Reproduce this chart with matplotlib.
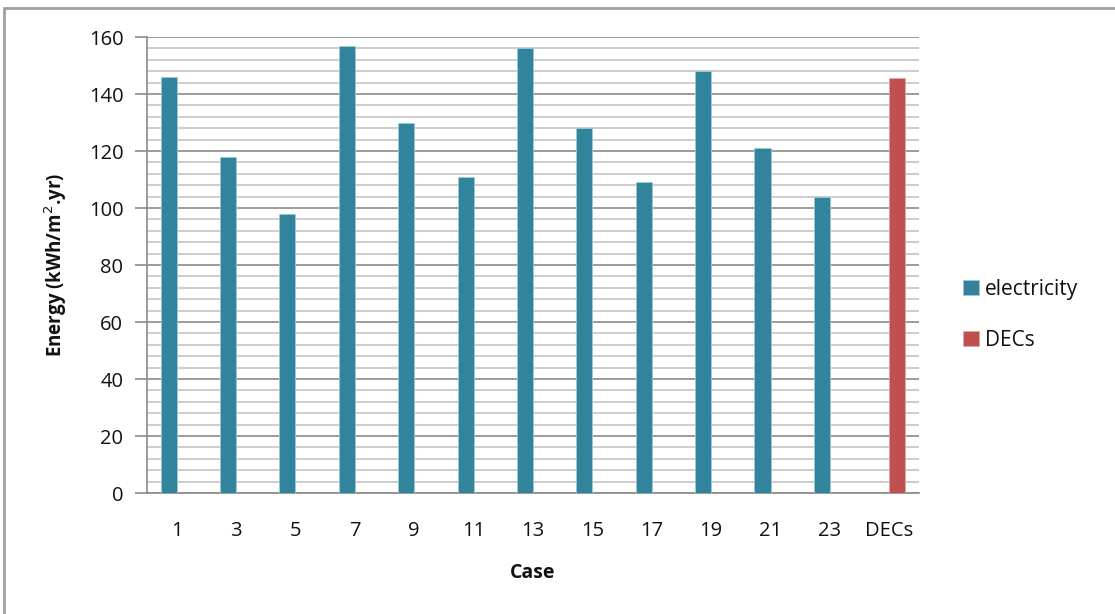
import matplotlib
matplotlib.use("Agg")
import matplotlib.pyplot as plt
from matplotlib.patches import Rectangle
from matplotlib.ticker import MultipleLocator
import numpy as np

plt.rcParams['font.family'] = ['Open Sans', 'DejaVu Sans']

categories = ["1", "3", "5", "7", "9", "11", "13", "15", "17", "19", "21", "23", "DECs"]
electricity = [146, 118, 98, 157, 130, 111, 156, 128, 109, 148, 121, 104, 0]
decs = [0, 0, 0, 0, 0, 0, 0, 0, 0, 0, 0, 0, 145.5]

teal = "#31849B"
red = "#C0504D"
text_color = "#111111"

fig = plt.figure(figsize=(11.15, 6.14), dpi=100)
ax = fig.add_axes([0.1318, 0.197, 0.6924, 0.7427])

x = np.arange(len(categories))
w = 0.27
ax.bar(x - w / 2, electricity, width=w, color=teal, edgecolor="#9ecad6", linewidth=0.6,
       label="electricity", zorder=3)
ax.bar(x + w / 2, decs, width=w, color=red, edgecolor="#e0a6a5", linewidth=0.6,
       label="DECs", zorder=3)

ax.set_xlim(-0.5, len(categories) - 0.5)
ax.set_ylim(0, 160)
ax.yaxis.set_major_locator(MultipleLocator(20))
ax.yaxis.set_minor_locator(MultipleLocator(4))
ax.grid(which="major", axis="y", color="#8a8a8a", linewidth=1.2, zorder=1)
ax.grid(which="minor", axis="y", color="#c4c4c4", linewidth=1.2, zorder=1)
ax.set_xticks(x)
ax.set_xticklabels(categories)

for side in ("top", "right"):
    ax.spines[side].set_visible(False)
for side in ("left", "bottom"):
    ax.spines[side].set_color("#8a8a8a")
    ax.spines[side].set_linewidth(1.2)

ax.tick_params(axis="y", which="major", length=9, width=1.2, color="#8a8a8a",
               labelsize=14.5, pad=8, labelcolor=text_color)
ax.tick_params(axis="y", which="minor", length=0)
ax.tick_params(axis="x", length=0, labelsize=14.5, pad=20, labelcolor=text_color)

ax.set_ylabel("Energy (kWh/m$^{2}$.yr)", fontsize=13.5, fontweight="bold",
              labelpad=14, color=text_color)
ax.set_xlabel("Case", fontsize=14, fontweight="bold", labelpad=16, color=text_color)

leg = fig.legend(loc="center left", bbox_to_anchor=(0.847, 0.487), frameon=False,
                 fontsize=15, handlelength=0.75, handleheight=0.75, handletextpad=0.3,
                 labelspacing=1.45)
for t in leg.get_texts():
    t.set_color(text_color)

fig.patches.append(Rectangle((0.004, -0.05), 1.2, 1.037, transform=fig.transFigure,
                             fill=False, edgecolor="#a0a0a0", linewidth=2.0))

fig.savefig("out.png", dpi=100)
